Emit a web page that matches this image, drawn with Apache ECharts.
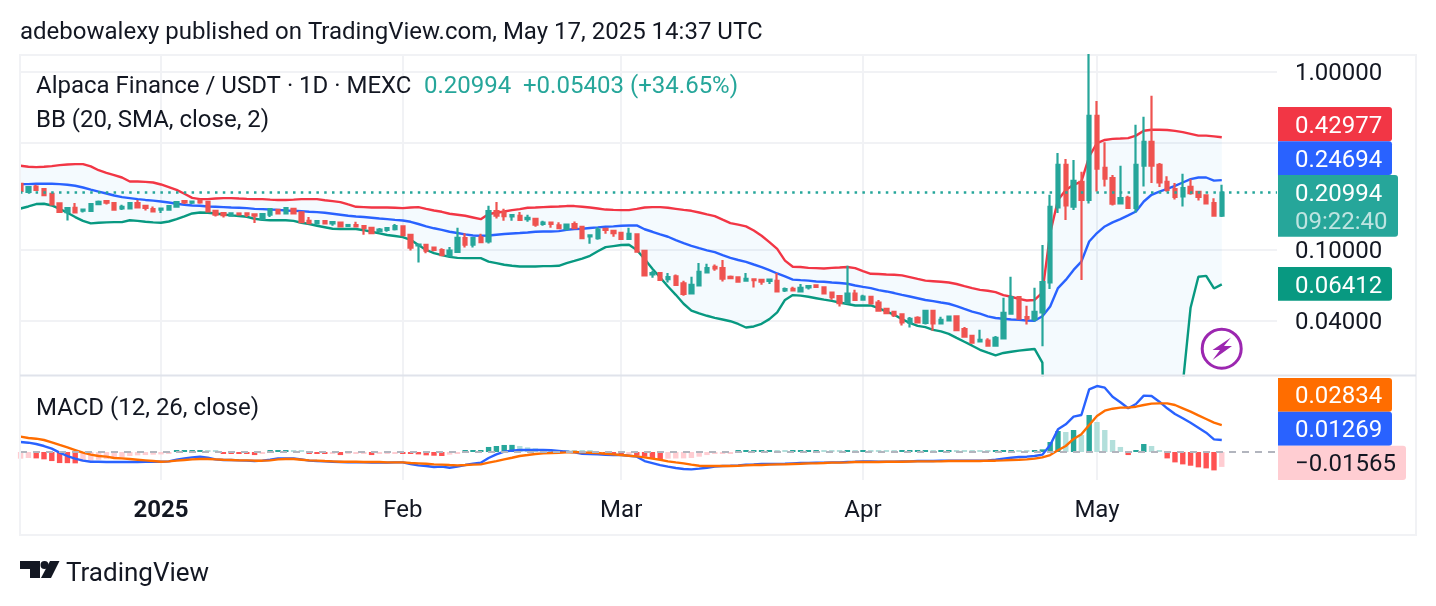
<!DOCTYPE html>
<html><head><meta charset="utf-8">
<style>html,body{margin:0;padding:0;background:#fff}#c{width:1436px;height:606px}</style>
<script src="https://cdn.jsdelivr.net/npm/echarts@6/dist/echarts.min.js"></script>
</head><body><div id="c"></div>
<script>
const opens=[.2355,.2122,.2274,.2196,.2070,.1826,.1633,.1726,.1666,.1660,.1812,.1881,.1835,.1710,.1710,.1835,.1772,.1696,.1687,.1687,.1753,.1881,.1842,.1888,.1865,.1660,.1612,.1557,.1604,.1604,.1584,.1490,.1578,.1680,.1604,.1703,.1625,.1458,.1411,.1452,.1411,.1423,.1364,.1381,.1364,.1332,.1276,.1297,.1309,.1358,.1218,.1060,.1070,.1032,.1000,.0928,.0976,.1167,.1070,.1176,.1116,.1653,.1625,.1543,.1557,.1490,.1497,.1400,.1423,.1375,.1313,.1400,.1347,.1192,.1167,.1313,.1281,.1250,.1155,.1226,.0988,.0729,.0742,.0685,.0710,.0649,.0570,.0632,.0748,.0805,.0791,.0707,.0701,.0673,.0685,.0679,.0671,.0671,.0592,.0605,.0585,.0616,.0632,.0616,.0577,.0551,.0505,.0568,.0526,.0546,.0507,.0467,.0450,.0435,.0389,.0416,.0389,.0455,.0387,.0402,.0424,.0359,.0329,.0307,.0310,.0290,.0319,.0439,.0544,.0420,.0409,.0446,.0657,.1733,.3011,.1753,.2415,.1911,.5673,.2895,.2535,.1826,.1964,.1726,.2982,.4050,.3011,.2415,.2196,.1998,.2265,.2122,.2030,.1835,.1559];
const closes=[.2149,.2256,.2175,.2035,.1802,.1639,.1719,.1625,.1687,.1812,.1865,.1842,.1687,.1749,.1835,.1733,.1726,.1645,.1710,.1765,.1858,.1849,.1872,.1849,.1645,.1578,.1572,.1604,.1584,.1578,.1557,.1592,.1696,.1604,.1719,.1604,.1434,.1417,.1452,.1411,.1434,.1358,.1381,.1358,.1332,.1243,.1303,.1327,.1364,.1213,.1032,.1074,.0992,.1000,.0936,.0992,.1171,.1070,.1167,.1108,.1653,.1557,.1551,.1572,.1476,.1517,.1388,.1423,.1400,.1327,.1388,.1327,.1167,.1207,.1303,.1297,.1245,.1155,.1234,.0979,.0719,.0742,.0679,.0704,.0636,.0566,.0638,.0754,.0791,.0787,.0691,.0695,.0665,.0688,.0676,.0665,.0682,.0585,.0603,.0592,.0613,.0627,.0621,.0570,.0544,.0503,.0568,.0524,.0548,.0501,.0457,.0442,.0431,.0392,.0411,.0392,.0455,.0387,.0405,.0422,.0355,.0326,.0302,.0313,.0290,.0321,.0444,.0544,.0411,.0412,.0450,.0660,.1749,.3011,.1779,.2445,.1911,.5673,.2867,.2514,.1819,.1956,.1726,.3011,.4050,.2982,.2394,.2175,.1990,.2226,.2088,.1990,.1826,.1559,.20994];
const lows=[.213,.2122,.2155,.2035,.1802,.1612,.1464,.1625,.1625,.1645,.1789,.1802,.1687,.1680,.1710,.1719,.1666,.1645,.1613,.1687,.1753,.1812,.1812,.1819,.1645,.1543,.1523,.1557,.1584,.1531,.1417,.1490,.1531,.1604,.1604,.1584,.1434,.1393,.1388,.1411,.1368,.1358,.1364,.1358,.1218,.1243,.1252,.1268,.1285,.1213,.0992,.0850,.0960,.0984,.0936,.0928,.0968,.1032,.1032,.1094,.1088,.1503,.1458,.1458,.1476,.1440,.1352,.1368,.1332,.1327,.1286,.1308,.1151,.1084,.1140,.1234,.1187,.1140,.1140,.0979,.0719,.0698,.0679,.0657,.0627,.0554,.0570,.0632,.0748,.0764,.0665,.0695,.0665,.0673,.0616,.0638,.0644,.0585,.0580,.0592,.0585,.0599,.0621,.0570,.0526,.0482,.0499,.0524,.0526,.0501,.0450,.0442,.0420,.0377,.0367,.0392,.0381,.0352,.0387,.0402,.0352,.0325,.0302,.0307,.0288,.0290,.0319,.0439,.0411,.0381,.0397,.0288,.0603,.1613,.1476,.1680,.0679,.1826,.2130,.2274,.1779,.1826,.1710,.1625,.2274,.2376,.2256,.2122,.1919,.1753,.2043,.1895,.1802,.1537,.1531];
const highs=[.238,.2256,.2325,.2196,.2070,.1849,.1742,.1835,.1687,.1835,.1895,.1911,.1835,.1796,.1835,.1911,.1796,.1753,.1710,.1789,.1858,.1881,.1872,.1930,.1865,.1680,.1612,.1604,.1604,.1604,.1584,.1592,.1696,.1680,.1719,.1726,.1645,.1531,.1470,.1470,.1434,.1440,.1381,.1440,.1364,.1352,.1327,.1327,.1400,.1368,.1234,.1074,.1084,.1046,.1024,.1038,.1332,.1243,.1167,.1234,.1772,.1858,.1703,.1572,.1633,.1578,.1497,.1458,.1423,.1434,.1405,.1446,.1347,.1207,.1340,.1313,.1281,.1250,.1332,.1226,.0988,.0764,.0742,.0742,.0729,.0671,.0707,.0846,.0837,.0829,.0879,.0719,.0710,.0742,.0685,.0679,.0691,.0742,.0616,.0621,.0644,.0632,.0640,.0624,.0577,.0551,.0815,.0597,.0560,.0546,.0524,.0467,.0450,.0439,.0420,.0424,.0455,.0455,.0422,.0427,.0427,.0369,.0329,.0356,.0319,.0329,.0539,.0707,.0544,.0486,.0613,.1066,.2043,.3502,.3249,.3205,.2750,1.3,.6878,.4035,.2636,.2972,.2017,.5050,.5599,.7347,.3077,.2595,.2376,.2680,.2496,.2122,.2043,.1956,.2325];
const bbUpper=[.2972,.2934,.2922,.2934,.2961,.2999,.3023,.3038,.3038,.2947,.2807,.2714,.2636,.2554,.2424,.2424,.2415,.2394,.2334,.2256,.2175,.2070,.1964,.1930,.1930,.1945,.1956,.1956,.1945,.1937,.1930,.1930,.1919,.1911,.1911,.1919,.1930,.1930,.1930,.1904,.1881,.1858,.1802,.1749,.1742,.1733,.1733,.1733,.1726,.1719,.1733,.1742,.1703,.1666,.1639,.1599,.1578,.1557,.1523,.1490,.1592,.1619,.1645,.1674,.1696,.1726,.1733,.1742,.1749,.1756,.1765,.1765,.1749,.1733,.1710,.1687,.1680,.1674,.1674,.1703,.1733,.1742,.1742,.1726,.1703,.1680,.1660,.1625,.1584,.1551,.1482,.1417,.1388,.1358,.1286,.1203,.1108,.1014,.0872,.0805,.0802,.0794,.0791,.0787,.0794,.0797,.0802,.0791,.0761,.0735,.0733,.0729,.0726,.0720,.0704,.0688,.0673,.0668,.0663,.0657,.0644,.0627,.0611,.0597,.0590,.0580,.0558,.0546,.0531,.0520,.0524,.0577,.1245,.1911,.2175,.2325,.2424,.3351,.3985,.4151,.4210,.4228,.4250,.4390,.4680,.4740,.4740,.4724,.4667,.4592,.4495,.4390,.4390,.4350,.42977];
const bbBasis=[.2346,.2346,.2355,.2355,.2355,.2346,.2325,.2295,.2244,.2184,.2130,.2077,.2024,.1982,.1956,.1930,.1911,.1895,.1872,.1849,.1819,.1796,.1779,.1772,.1756,.1749,.1742,.1733,.1726,.1719,.1703,.1696,.1687,.1680,.1666,.1660,.1653,.1639,.1633,.1619,.1599,.1578,.1557,.1543,.1531,.1517,.1503,.1490,.1476,.1464,.1440,.1400,.1358,.1324,.1297,.1266,.1245,.1223,.1207,.1203,.1207,.1218,.1229,.1239,.1245,.1255,.1266,.1270,.1270,.1276,.1297,.1313,.1317,.1329,.1340,.1352,.1358,.1369,.1374,.1374,.1308,.1266,.1223,.1187,.1136,.1094,.1056,.1024,.0996,.0972,.0936,.0903,.0879,.0858,.0829,.0802,.0770,.0738,.0710,.0682,.0677,.0673,.0665,.0663,.0657,.0652,.0646,.0632,.0621,.0611,.0595,.0585,.0573,.0560,.0548,.0536,.0524,.0516,.0507,.0499,.0484,.0467,.0451,.0439,.0424,.0415,.0411,.0407,.0405,.0402,.0400,.0424,.0482,.0611,.0679,.0773,.0861,.1116,.1245,.1356,.1430,.1490,.1564,.1645,.1872,.2043,.2130,.2205,.2295,.2394,.2500,.2554,.2554,.2454,.24694];
const bbLower=[.1710,.1756,.1812,.1819,.1779,.1703,.1619,.1531,.1458,.1411,.1423,.1429,.1434,.1434,.1470,.1458,.1440,.1429,.1423,.1446,.1490,.1543,.1604,.1625,.1619,.1604,.1584,.1564,.1551,.1537,.1497,.1476,.1470,.1470,.1470,.1458,.1423,.1400,.1368,.1343,.1317,.1313,.1313,.1313,.1292,.1266,.1239,.1214,.1198,.1182,.1140,.1066,.1000,.0960,.0936,.0915,.0903,.0900,.0900,.0900,.0861,.0844,.0826,.0815,.0808,.0808,.0808,.0812,.0812,.0815,.0844,.0868,.0895,.0928,.0984,.1038,.1052,.1066,.1070,.1000,.0891,.0784,.0701,.0624,.0560,.0499,.0457,.0440,.0427,.0416,.0407,.0398,.0384,.0367,.0372,.0385,.0409,.0446,.0524,.0558,.0554,.0546,.0536,.0526,.0518,.0507,.0497,.0488,.0488,.0488,.0471,.0451,.0433,.0409,.0389,.0375,.0369,.0356,.0349,.0338,.0321,.0305,.0290,.0275,.0265,.0256,.0264,.0268,.0272,.0275,.0278,.0233,.0001,.0001,.0001,.0001,.0001,.0001,.0001,.0001,.0001,.0001,.0001,.0001,.0001,.0001,.0001,.0001,.0001,.0176,.0474,.0707,.0716,.0608,.06412];
const macdLine=[.0105,.0098,.0084,.0063,.0035,-.0007,-.0042,-.0070,-.0091,-.0102,-.0102,-.0105,-.0105,-.0105,-.0105,-.0105,-.0102,-.0102,-.0102,-.0098,-.0081,-.0067,-.0056,-.0049,-.0060,-.0077,-.0084,-.0084,-.0088,-.0091,-.0095,-.0091,-.0081,-.0067,-.0067,-.0067,-.0077,-.0091,-.0095,-.0098,-.0102,-.0105,-.0109,-.0109,-.0109,-.0112,-.0112,-.0112,-.0109,-.0109,-.0126,-.0140,-.0147,-.0158,-.0154,-.0165,-.0154,-.0137,-.0123,-.0112,-.0063,-.0025,.0004,.0014,.0021,.0021,.0021,.0021,.0018,.0011,.0004,-.0004,-.0018,-.0021,-.0025,-.0028,-.0032,-.0032,-.0039,-.0049,-.0095,-.0116,-.0137,-.0154,-.0168,-.0179,-.0182,-.0175,-.0165,-.0154,-.0147,-.0144,-.0140,-.0133,-.0130,-.0126,-.0126,-.0126,-.0123,-.0119,-.0116,-.0116,-.0112,-.0112,-.0109,-.0109,-.0105,-.0102,-.0098,-.0098,-.0102,-.0102,-.0102,-.0098,-.0098,-.0095,-.0095,-.0095,-.0091,-.0091,-.0091,-.0091,-.0091,-.0091,-.0088,-.0081,-.0070,-.0060,-.0053,-.0049,-.0042,-.0028,.0074,.0238,.0291,.0371,.0389,.0658,.0693,.0676,.0581,.0522,.0459,.0504,.0592,.0588,.0529,.0459,.0399,.0354,.0308,.0256,.0203,.0133,.01269];
const signalLine=[.0161,.0147,.0140,.0126,.0102,.0074,.0049,.0021,-.0007,-.0028,-.0042,-.0049,-.0063,-.0067,-.0074,-.0081,-.0088,-.0095,-.0102,-.0098,-.0091,-.0084,-.0077,-.0074,-.0074,-.0077,-.0081,-.0084,-.0088,-.0088,-.0091,-.0091,-.0088,-.0077,-.0074,-.0074,-.0081,-.0088,-.0091,-.0095,-.0098,-.0102,-.0102,-.0102,-.0105,-.0105,-.0105,-.0109,-.0109,-.0109,-.0116,-.0119,-.0123,-.0130,-.0133,-.0137,-.0140,-.0137,-.0133,-.0130,-.0112,-.0095,-.0077,-.0060,-.0042,-.0032,-.0021,-.0014,-.0011,-.0007,-.0004,0,-.0004,-.0007,-.0011,-.0018,-.0025,-.0032,-.0039,-.0046,-.0056,-.0070,-.0081,-.0098,-.0109,-.0119,-.0133,-.0144,-.0147,-.0147,-.0147,-.0147,-.0144,-.0140,-.0137,-.0137,-.0133,-.0130,-.0130,-.0126,-.0123,-.0119,-.0119,-.0116,-.0112,-.0112,-.0109,-.0105,-.0105,-.0105,-.0105,-.0102,-.0102,-.0102,-.0100,-.0098,-.0098,-.0098,-.0098,-.0095,-.0095,-.0095,-.0095,-.0095,-.0091,-.0091,-.0088,-.0084,-.0081,-.0077,-.0070,-.0056,-.0032,.0018,.0063,.0137,.0186,.0284,.0378,.0434,.0455,.0466,.0466,.0476,.0494,.0508,.0511,.0511,.0494,.0459,.0424,.0385,.0347,.0308,.02834];
const histValues=[-.0070,-.0063,-.0067,-.0077,-.0095,-.0116,-.0117,-.0119,-.0102,-.0091,-.0081,-.0074,-.0067,-.0056,-.0042,-.0035,-.0032,-.0028,-.0025,-.0014,.0005,.0007,.0009,.0021,.0011,.0007,-.0011,-.0018,-.0019,-.0021,-.0032,-.0011,.0004,.0007,.0011,.0007,.0004,-.0014,-.0018,-.0021,-.0011,-.0032,-.0018,-.0014,-.0011,-.0032,-.0011,-.0007,-.0004,-.0011,-.0018,-.0025,-.0035,-.0039,-.0042,-.0028,-.0018,.0004,.0007,.0009,.0053,.0063,.0074,.0075,.0063,.0049,.0039,.0028,.0018,.0011,.0007,.0005,.0004,.0002,-.0004,-.0007,-.0011,-.0014,-.0011,-.0039,-.0049,-.0063,-.0077,-.0070,-.0068,-.0067,-.0063,-.0049,-.0032,-.0018,-.0011,-.0004,.0002,.0003,.0004,.0005,.0006,.0005,.0004,.0005,.0006,.0007,.0008,.0007,.0006,.0005,.0006,.0005,.0006,.0005,.0004,.0003,.0002,.0002,.0004,.0005,.0006,.0005,.0006,.0007,.0006,.0005,.0004,.0003,.0002,.0004,.0006,.0021,.0018,.0016,.0018,.0028,.0105,.0221,.0210,.0231,.0179,.0389,.0315,.0231,.0126,.0053,-.0032,.0014,.0084,.0063,.0014,-.0067,-.0109,-.0130,-.0144,-.0161,-.0172,-.0193,-.01565];
const firstDay='2024-12-14';
const monthTicks=['2025-01-01','2025-02-01','2025-03-01','2025-04-01','2025-05-01'];
const monthLabels=['2025','Feb','Mar','Apr','May'];
const priceTicks=[1,0.4,0.1,0.04];
const priceLabels=['1.00000','','0.10000','0.04000'];
const currentPrice=0.20994;

const DAY=86400000, t0=Date.parse(firstDay+'T00:00:00Z');
const dates=opens.map((_,i)=>i);
const tickTimes=monthTicks.map(d=>(Date.parse(d+'T00:00:00Z')-t0)/DAY);
const xMin=-0.077, xMax=161.08;
const FONT='Roboto', INK='#131722', GRID='#f1f2f5', EDGE='#e0e3eb', FS=24, LW=2.4;
const UP='#26a69a', DOWN='#ef5350';
const pair=a=>a.map((v,i)=>[dates[i],v]);
const xBase=idx=>({type:'value',gridIndex:idx,min:xMin,max:xMax,
  axisLine:{show:false},
  axisTick:{show:false,customValues:tickTimes},
  splitLine:{show:true,lineStyle:{color:GRID,width:2}},
  axisLabel:idx===1?{show:true,customValues:tickTimes,margin:19,color:INK,fontFamily:FONT,fontSize:FS,hideOverlap:false,
    showMinLabel:true,showMaxLabel:true,
    formatter:v=>{const k=tickTimes.indexOf(+v);return k===0?'{b|'+monthLabels[0]+'}':(monthLabels[k]||'');},
    rich:{b:{fontWeight:'bold',fontFamily:FONT,fontSize:FS,color:INK}}}:{show:false}});
const txt=(t,x,y,size,fill)=>({type:'text',silent:true,z:50,style:{text:t,x,y:y+4,font:(size||FS)+'px '+FONT,fill:fill||INK,textVerticalAlign:'middle',textAlign:'left'}});
const plate=(x,y,w,h,fill,r)=>({type:'rect',silent:true,z:40,shape:{x,y,width:w,height:h,r:r||[0,3,3,0]},style:{fill}});
const mask=(x,y,w,h)=>({type:'rect',silent:true,z:25,shape:{x,y,width:w,height:h},style:{fill:'#fff'}});
const rule=(x1,y1,x2,y2,c,w,z)=>({type:'line',silent:true,z:z||30,shape:{x1,y1,x2,y2},style:{stroke:c,lineWidth:w||2}});
const chart=echarts.init(document.getElementById('c'),null,{renderer:'canvas'});
chart.setOption({
  animation:false,backgroundColor:'#fff',
  grid:[{left:20,right:159,top:54,height:321,containLabel:false},{left:20,right:159,top:375,height:105,containLabel:false}],
  xAxis:[xBase(0),xBase(1)],
  yAxis:[
   {type:'log',logBase:10,gridIndex:0,position:'right',min:0.01985,max:1.262,axisLine:{show:false},axisTick:{show:false,customValues:priceTicks},
    splitLine:{show:true,lineStyle:{color:GRID,width:2}},minorSplitLine:{show:false},
    axisLabel:{show:true,customValues:priceTicks,margin:18,color:INK,fontFamily:FONT,fontSize:FS,verticalAlign:'top',lineHeight:4,
      formatter:v=>{const k=priceTicks.findIndex(p=>Math.abs(p-v)<1e-6);return k>=0?priceLabels[k]:'';}}},
   {type:'value',gridIndex:1,min:-0.0294,max:0.0809,axisLine:{show:false},axisTick:{show:false},splitLine:{show:false},axisLabel:{show:false}}
  ],
  series:[
   {name:'Band',type:'custom',xAxisIndex:0,yAxisIndex:0,clip:true,z:1,data:pair(bbUpper),
    renderItem:(p,api)=>{
      if(p.dataIndex!==0) return null;
      const top=bbUpper.map((v,i)=>api.coord([dates[i],v]));
      const bot=bbLower.map((v,i)=>api.coord([dates[i],v])).reverse();
      return {type:'polygon',shape:{points:top.concat(bot)},style:{fill:'rgba(33,150,243,0.05)'}};
    }},
   {name:'Upper',type:'line',xAxisIndex:0,yAxisIndex:0,data:pair(bbUpper),showSymbol:false,lineStyle:{color:'#f23645',width:LW},z:2},
   {name:'Basis',type:'line',xAxisIndex:0,yAxisIndex:0,data:pair(bbBasis),showSymbol:false,lineStyle:{color:'#2962ff',width:LW},z:2},
   {name:'Lower',type:'line',xAxisIndex:0,yAxisIndex:0,data:pair(bbLower),showSymbol:false,lineStyle:{color:'#089981',width:LW},z:2},
   {name:'Price',type:'candlestick',xAxisIndex:0,yAxisIndex:0,barWidth:4,z:3,
    data:opens.map((o,i)=>[dates[i],o,closes[i],lows[i],highs[i]]),
    itemStyle:{color:UP,color0:DOWN,borderColor:UP,borderColor0:DOWN,borderWidth:2.2},
    markLine:{silent:true,symbol:'none',animation:false,label:{show:false},lineStyle:{color:UP,type:[2.5,5.3],width:2.5},data:[{yAxis:currentPrice}]}},
   {name:'Histogram',type:'bar',xAxisIndex:1,yAxisIndex:1,barWidth:5.4,barMinHeight:2,z:2,data:pair(histValues),
    itemStyle:{color:p=>{const i=p.dataIndex,v=histValues[i],q=i?histValues[i-1]:v-0.0001;return v>=0?(v>=q?'#26a69a':'#b2dfdb'):(v<q?'#ff5252':'#ffcdd2');}},
    markLine:{silent:true,symbol:'none',animation:false,label:{show:false},lineStyle:{color:'#b2b5be',type:[7,6],width:2},data:[{yAxis:0}]}},
   {name:'MACD',type:'line',xAxisIndex:1,yAxisIndex:1,data:pair(macdLine),showSymbol:false,lineStyle:{color:'#2962ff',width:LW},z:3},
   {name:'Signal',type:'line',xAxisIndex:1,yAxisIndex:1,data:pair(signalLine),showSymbol:false,lineStyle:{color:'#ff6d00',width:LW},z:4}
  ],
  graphic:{elements:[
   mask(0,42,1436,12),mask(0,54,19,322),
   rule(20,55,1416,55,GRID,2,1),rule(20,54,20,536,GRID),rule(1416,54,1416,536,GRID),rule(20,535,1416,535,GRID),rule(20,375.5,1416,375.5,EDGE),
   txt('adebowalexy published on TradingView.com, May 17, 2025 14:37 UTC',20,29,FS),
   txt('Alpaca Finance / USDT · 1D · MEXC',36,83,FS),
   txt('0.20994',424,83,FS,UP),txt('+0.05403',523,83,FS,UP),txt('(+34.65%)',630,83,FS,UP),
   txt('BB (20, SMA, close, 2)',36,117,FS),
   txt('MACD (12, 26, close)',36,405,FS),
   plate(1278,107,114,34.3,'#f23645'),txt('0.42977',1295,122.5,FS,'#fff'),
   plate(1278,141.3,114,33.7,'#2962ff'),txt('0.24694',1295,156.5,FS,'#fff'),
   plate(1278,175,120,61.7,'#26a69a'),txt('0.20994',1295,191,FS,'#fff'),txt('09:22:40',1295,219,FS,'rgba(255,255,255,0.7)'),
   plate(1278,267,114,33.7,'#089981'),txt('0.06412',1295,283,FS,'#fff'),
   plate(1278,378,114,33.7,'#ff6d00'),txt('0.02834',1295,393,FS,'#fff'),
   plate(1278,411.7,114,34,'#2962ff'),txt('0.01269',1295,427,FS,'#fff'),
   plate(1278,445.7,128,34.3,'#ffcdd2'),txt('\u22120.01565',1295,461,FS,INK),
   {type:'circle',silent:true,z:30,shape:{cx:1221.7,cy:348.7,r:19.5},style:{fill:'#fff',stroke:'#9c27b0',lineWidth:3}},
   {type:'polygon',silent:true,z:31,shape:{points:[[1231,337.5],[1212.5,350],[1220,350],[1212.5,360],[1232,346],[1224,346]]},style:{fill:'#9c27b0'}},
   {type:'polygon',silent:true,z:30,shape:{points:[[20,561],[40,561],[40,578],[30,578],[30,569],[20,569]]},style:{fill:INK}},
   {type:'circle',silent:true,z:30,shape:{cx:44.5,cy:565,r:4},style:{fill:INK}},
   {type:'polygon',silent:true,z:30,shape:{points:[[50,561],[59.5,561],[51,578],[41,578]]},style:{fill:INK}},
   txt('TradingView',66,570,26)
  ]}
});
</script></body></html>
